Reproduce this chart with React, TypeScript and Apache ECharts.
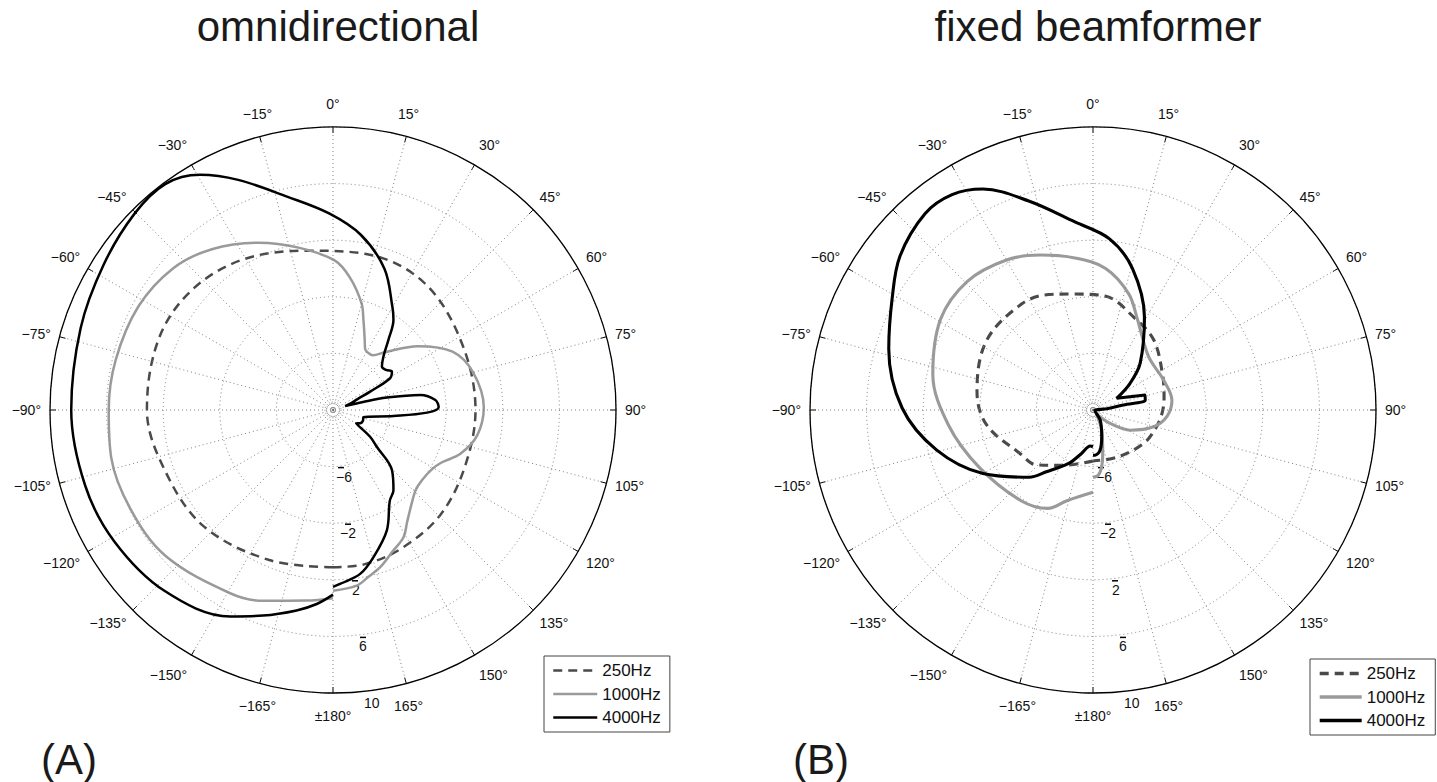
import React, { useEffect, useRef } from 'react';
import * as echarts from 'echarts';

// ---- data (dB values at compass angles, 0° = front/top, clockwise positive) ----
const seriesNames = ['250Hz', '1000Hz', '4000Hz'];
const panelTitles = ['omnidirectional', 'fixed beamformer'];
const panelLetters = ['(A)', '(B)'];

const omni250Angles = [-180, -157, -132, -110, -90, -68, -50, -31, -9, 12, 35, 61, 90, 113, 134, 153, 168, 180];
const omni250Db = [1.12, 1.52, 2.29, 2.62, 3.15, 3.3, 3.1, 2.4, 1.4, 1.27, 1.08, 0.29, 0.07, 0.14, 0.6, 0.9, 1.12, 1.12];

const omni1000Angles = [-180, -172, -160, -150.7, -131, -116, -102, -90, -77, -62, -48.5, -37, -24, -12, 0.6, 7.3, 15, 18.6, 24, 28, 31, 36, 42, 53, 64, 75, 89, 100, 109, 116, 121, 128, 134, 139, 146.5, 151, 157, 163.3, 168, 172.3, 180];
const omni1000Db = [3.3, 3.6, 4.35, 4.85, 5.7, 5.93, 6.03, 5.85, 5.76, 5.58, 5.1, 4.23, 2.94, 1.73, 0.57, -0.57, -2.2, -3.26, -4.5, -5.15, -5.25, -5.22, -4.5, -2.5, -0.6, 0.25, 0.66, 0.35, -0.48, -1.5, -1.85, -1.99, -1.87, -1.46, -0.51, 0.28, 0.83, 1.6, 2.05, 2.52, 2.77];

const omni4000Angles = [-180, -175.2, -169.7, -161.2, -153.5, -137, -121, -107, -90, -72, -57.6, -45.3, -36.6, -29.5, -22.4, -12, -1, 9, 20, 30, 33.8, 38.3, 43.3, 48.4, 53, 56.9, 60.9, 63.7, 66, 70, 72, 75, 77, 80.2, 84.4, 88.5, 91.6, 95.7, 103.5, 110, 116, 120, 125.8, 130, 135.6, 143, 148, 155.9, 164.6, 170.6, 177.7, 180];
const omni4000Db = [3.05, 3.76, 4.4, 5.35, 6.3, 7.47, 8.03, 8.31, 8.5, 8.75, 9.19, 9.73, 9.89, 9.1, 7.59, 5.4, 3.88, 2.54, 0.63, -1.6, -2.32, -3.68, -4.8, -5.38, -5.3, -5.03, -5.38, -7.07, -8.1, -8.7, -9.1, -7.8, -6.1, -3.74, -2.73, -2.53, -3.35, -5.7, -7.79, -7.75, -7.87, -8.11, -6.77, -5.96, -4.04, -2.9, -2.43, -0.68, 0.78, 1.74, 2.3, 2.5];

const beam250Angles = [-180, -152, -134, -122, -98, -81, -57, -34, -21, -11, 6, 25, 41, 62, 80, 93, 107, 124, 153, 180];
const beam250Db = [-6.4, -5.57, -4.42, -4.04, -2.41, -1.7, -1.02, -0.97, -1.26, -1.65, -1.9, -2.89, -3.45, -4.45, -4.9, -5.12, -5.4, -5.72, -6.25, -6.4];

const beam1000Angles = [-180, -164, -155.5, -141.6, -116.6, -95.8, -77.4, -59.2, -44.3, -30.2, -18.7, -6.8, 5.1, 17.1, 26, 46, 67, 83, 95, 105.5, 118.4, 128, 138, 150, 156.5, 167.4, 171.3, 175.3, 180];
const beam1000Db = [-4.18, -3.33, -2.36, -1.82, -0.99, 0.28, 1.6, 2.54, 2.71, 2.25, 1.56, 0.82, 0.04, -1.41, -2.85, -4.55, -4.58, -4.38, -4.75, -5.56, -7.0, -8.47, -9.6, -9.2, -8.45, -6.85, -5.94, -5.38, -5.25];

const beam4000Angles = [-180, -175.7, -165, -155.5, -143, -136.5, -120, -104.4, -89.4, -73.3, -61, -51.4, -40.5, -33.2, -26.5, -17.1, -5.5, 5.5, 15.6, 29, 45.2, 54.2, 63.7, 70.6, 73.9, 79.1, 80.6, 85, 100, 130, 145, 162, 170, 177.5, 180];
const beam4000Db = [-7.4, -7.45, -6.8, -5.85, -4.53, -3.45, -1.02, 1.4, 3.49, 5.07, 6.23, 7.45, 8.26, 8.19, 7.45, 5.45, 3.35, 2.15, 0.38, -2.5, -5.3, -6.77, -8.13, -7.16, -6.16, -6.24, -7.82, -9.0, -9.85, -9.75, -9.1, -8.01, -7.12, -6.8, -6.8];

const radiusMin = -10;
const radiusMax = 10;
const radiusStep = 4;
const angleMin = -180;
const angleMax = 180;
const angleStep = 15;

// ---- styling ----
const FONT = '"Liberation Sans", Arial, Helvetica, sans-serif';
const lineColors = ['#4a4a4a', '#9a9a9a', '#000000'];
const lineTypes: any[] = [[9, 6], 'solid', 'solid'];
const panelLineWidths = [2.5, 3.1];
const centers = [[333, 410], [1093, 410]];
const R = 283;
// per-ring offsets of the radial labels (dash / number), left to right along the ray
const dashOffsets = [5, 12, 19, 27, 0];
const numOffsets = [3, 7, 19, 26, 31];

const toPairs = (angles: number[], db: number[]) => angles.map((a, i) => [db[i], a]);
const minus = (v: number) => (v < 0 ? '\u2212' + Math.abs(v) : String(v));

export default function App() {
  const ref = useRef<HTMLDivElement>(null);
  useEffect(() => {
    if (!ref.current) return;
    const chart = echarts.init(ref.current, null, { renderer: 'svg' });

    const panels = [
      [toPairs(omni250Angles, omni250Db), toPairs(omni1000Angles, omni1000Db), toPairs(omni4000Angles, omni4000Db)],
      [toPairs(beam250Angles, beam250Db), toPairs(beam1000Angles, beam1000Db), toPairs(beam4000Angles, beam4000Db)],
    ];

    const angleRich = {
      a: { fontSize: 14, fontFamily: FONT, color: '#111', padding: [7, 0, 7, 0] },
      b: { fontSize: 14, fontFamily: FONT, color: '#111', padding: [5, 0, 5, 0] },
      c: { fontSize: 14, fontFamily: FONT, color: '#111' },
    };
    const angleFormatter = (v: number) => {
      if (v === angleMax) return '';
      const txt = v === angleMin ? '\u00b1180\u00b0' : minus(v) + '\u00b0';
      const av = Math.abs(v);
      const key = av <= 15 || av >= 165 ? 'a' : av === 30 || av === 150 ? 'b' : 'c';
      return `{${key}|${txt}}`;
    };

    const angleAxis = centers.map((_, i) => ({
      polarIndex: i,
      type: 'value',
      min: angleMin,
      max: angleMax,
      interval: angleStep,
      startAngle: 270,
      clockwise: true,
      z: 5,
      axisLine: { show: true, lineStyle: { color: '#000', width: 1.3 } },
      axisTick: { show: true, inside: true, length: 6, lineStyle: { color: '#000', width: 1 } },
      axisLabel: {
        show: true,
        margin: 9,
        fontSize: 14,
        fontFamily: FONT,
        color: '#111',
        formatter: angleFormatter,
        rich: angleRich,
      },
      splitLine: { show: true, lineStyle: { color: '#808080', type: [1, 3], width: 1 } },
    }));

    const radiusRich: any = {
      dash: { width: 6, height: 1.5, backgroundColor: '#000' },
      num: { fontSize: 14, fontFamily: FONT, color: '#111', lineHeight: 16 },
    };
    dashOffsets.forEach((w, i) => {
      radiusRich['ds' + i] = { width: w, height: 2 };
    });
    numOffsets.forEach((w, i) => {
      radiusRich['ns' + i] = { width: w, height: 16 };
    });
    const radiusFormatter = (v: number) => {
      if (v === radiusMin) return '';
      const i = Math.round((v - radiusMin) / radiusStep) - 1;
      const top = i < 4 ? `{ds${i}|}{dash|}` : `{ds${i}|}`;
      return `${top}\n{ns${i}|}{num|${minus(v)}}`;
    };

    const radiusAxis = centers.map((_, i) => ({
      polarIndex: i,
      type: 'value',
      min: radiusMin,
      max: radiusMax,
      interval: radiusStep,
      z: 4,
      axisLine: { show: false },
      axisTick: { show: false },
      axisLabel: {
        show: true,
        margin: 0,
        align: 'left',
        verticalAlign: 'top',
        formatter: radiusFormatter,
        rich: radiusRich,
      },
      splitLine: { show: true, lineStyle: { color: '#808080', type: [1, 3], width: 1 } },
    }));

    const series: any[] = [];
    panels.forEach((panel, p) => {
      panel.forEach((data, k) => {
        series.push({
          type: 'line',
          name: seriesNames[k],
          coordinateSystem: 'polar',
          polarIndex: p,
          data,
          symbol: 'none',
          smooth: 0.35,
          z: 3 + k,
          lineStyle: { color: lineColors[k], width: panelLineWidths[p], type: lineTypes[k] },
          itemStyle: { color: lineColors[k] },
        });
      });
    });

    const legendBase = {
      orient: 'vertical',
      data: seriesNames,
      itemHeight: 12,
      itemGap: 6.5,
      borderColor: '#444',
      borderWidth: 1,
      selectedMode: false,
      itemStyle: { opacity: 0, borderWidth: 0 },
      textStyle: { fontSize: 17, fontFamily: FONT, color: '#111' },
    };

    const option: any = {
      animation: false,
      backgroundColor: '#ffffff',
      title: [
        ...panelTitles.map((t, i) => ({
          text: t,
          left: centers[i][0],
          top: 0,
          textAlign: 'center',
          textStyle: { fontSize: 42, fontWeight: 'normal', fontFamily: FONT, color: '#1a1a1a' },
        })),
        ...panelLetters.map((t, i) => ({
          text: t,
          left: i === 0 ? 36 : 788,
          top: 733,
          textStyle: { fontSize: 42, fontWeight: 'normal', fontFamily: FONT, color: '#1a1a1a' },
        })),
      ],
      polar: centers.map((c) => ({ center: c, radius: R })),
      angleAxis,
      radiusAxis,
      legend: [
        { ...legendBase, left: 544, top: 656, itemWidth: 44, padding: [6, 9, 6, 8], lineStyle: { width: 2.5 } },
        { ...legendBase, left: 1310, top: 659, itemWidth: 42, padding: [6, 10, 6, 8], lineStyle: { width: 3.4 } },
      ],
      graphic: centers.map((c) => ({
        type: 'group',
        children: [
          { type: 'circle', shape: { cx: c[0], cy: c[1], r: 8 }, style: { fill: 'none', stroke: '#808080', lineWidth: 1, lineDash: [1, 2] } },
          { type: 'circle', shape: { cx: c[0], cy: c[1], r: 1 }, style: { fill: '#555' } },
        ],
      })),
      series,
    };

    chart.setOption(option);
    return () => chart.dispose();
  }, []);

  return <div ref={ref} style={{ position: 'fixed', left: 0, top: 0, width: 1437, height: 782, background: '#fff' }} />;
}
